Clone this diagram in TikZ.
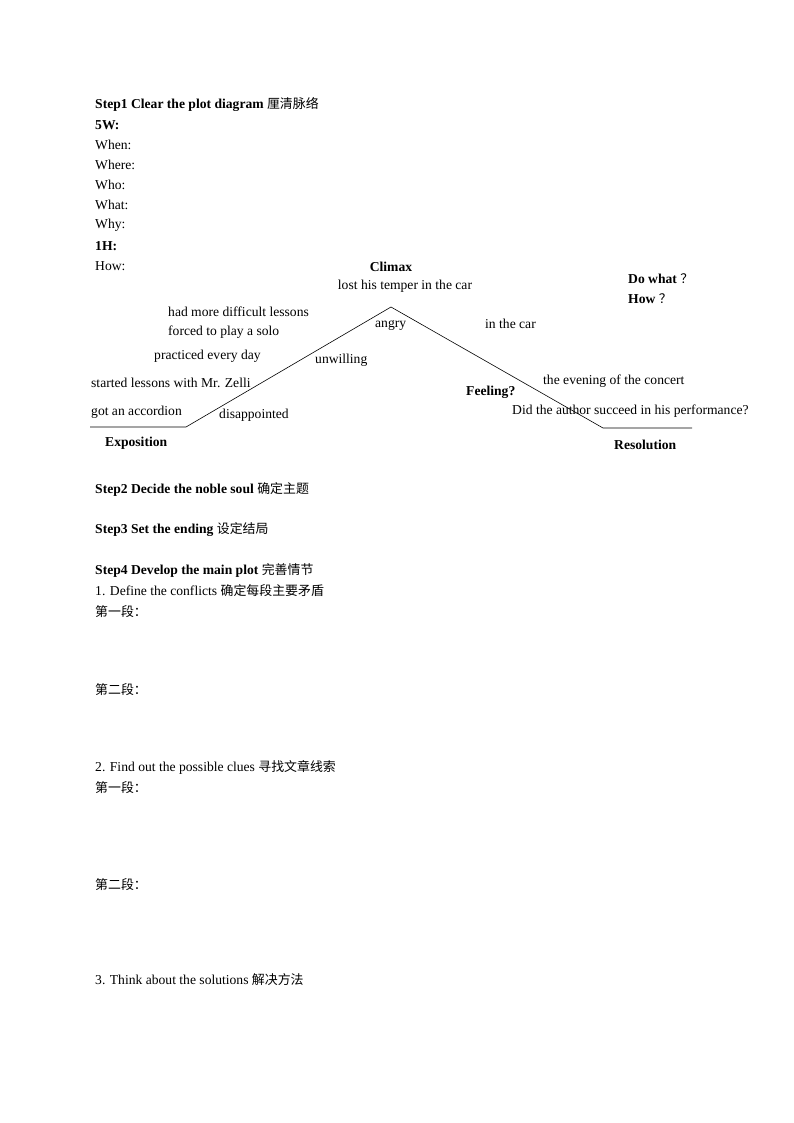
\documentclass[tikz,border=0pt]{standalone}
\usepackage{fontspec}
\setmainfont{Liberation Serif}
\newfontfamily\cjk{Noto Sans CJK SC}[Scale=0.95]
\begin{document}
\begin{tikzpicture}[x=1pt,y=-1pt,
  t/.style={anchor=west,inner sep=0pt,font=\fontsize{13.6}{15}\selectfont},
  b/.style={t,font=\fontsize{13.6}{15}\selectfont\bfseries}]
\useasboundingbox (0,0) rectangle (794,1123);
\node[b] (s1) at (95,104) {Step1 Clear the plot diagram {\cjk\mdseries 厘清脉络}};
\node[b] (w5) at (95,125) {5W:};
\node[t] (n1) at (95,145) {When:};
\node[t] (n2) at (95,165) {Where:};
\node[t] (n3) at (95,185) {Who:};
\node[t] (n4) at (95,205) {What:};
\node[t] (n5) at (95,225) {Why:};
\node[b] (h1) at (95,246) {1H:};
\node[t] (n6) at (95,266) {How:};
% plot line
\coordinate (a) at (90,427);
\coordinate (b2) at (186,427);
\coordinate (p) at (391,307);
\coordinate (c) at (603,428);
\coordinate (d) at (692,428);
\draw[line width=0.6pt] (a) -- (b2) -- (p) -- (c) -- (d);
\node[b,anchor=center] (cl) at (391,267) {Climax};
\node[t,anchor=center] (l1) at (405,286) {lost his temper in the car};
\node[b] (dw) at (628,279) {Do what {\cjk\mdseries ？}};
\node[b] (hw) at (628,299) {How {\cjk\mdseries ？}};
\node[t] (e1) at (168,312) {had more difficult lessons};
\node[t] (e2) at (168,332) {forced to play a solo};
\node[t] (e3) at (154,356) {practiced every day};
\node[t] (e4) at (91,383) {started lessons with Mr. Zelli};
\node[t] (e5) at (91,412) {got an accordion};
\node[t] (e6) at (219,415) {disappointed};
\node[t] (e7) at (315,360) {unwilling};
\node[t] (e8) at (375,325) {angry};
\node[t] (e9) at (485,324) {in the car};
\node[t] (e10) at (543,381) {the evening of the concert};
\node[b] (fe) at (466,392) {Feeling?};
\node[t] (e11) at (512,411) {Did the author succeed in his performance?};
\node[b] (ex) at (105,443) {Exposition};
\node[b] (re) at (614,445) {Resolution};
\node[b] (s2) at (95,489) {Step2 Decide the noble soul {\cjk\mdseries 确定主题}};
\node[b] (s3) at (95,530) {Step3 Set the ending {\cjk\mdseries 设定结局}};
\node[b] (s4) at (95,570) {Step4 Develop the main plot {\cjk\mdseries 完善情节}};
\node[t] (q1) at (95,591) {1. Define the conflicts {\cjk 确定每段主要矛盾}};
\node[t] (q2) at (95,612) {\cjk 第一段：};
\node[t] (q3) at (95,690) {\cjk 第二段：};
\node[t] (q4) at (95,767) {2. Find out the possible clues {\cjk 寻找文章线索}};
\node[t] (q5) at (95,788) {\cjk 第一段：};
\node[t] (q6) at (95,885) {\cjk 第二段：};
\node[t] (q7) at (95,980) {3. Think about the solutions {\cjk 解决方法}};
\end{tikzpicture}
\end{document}
